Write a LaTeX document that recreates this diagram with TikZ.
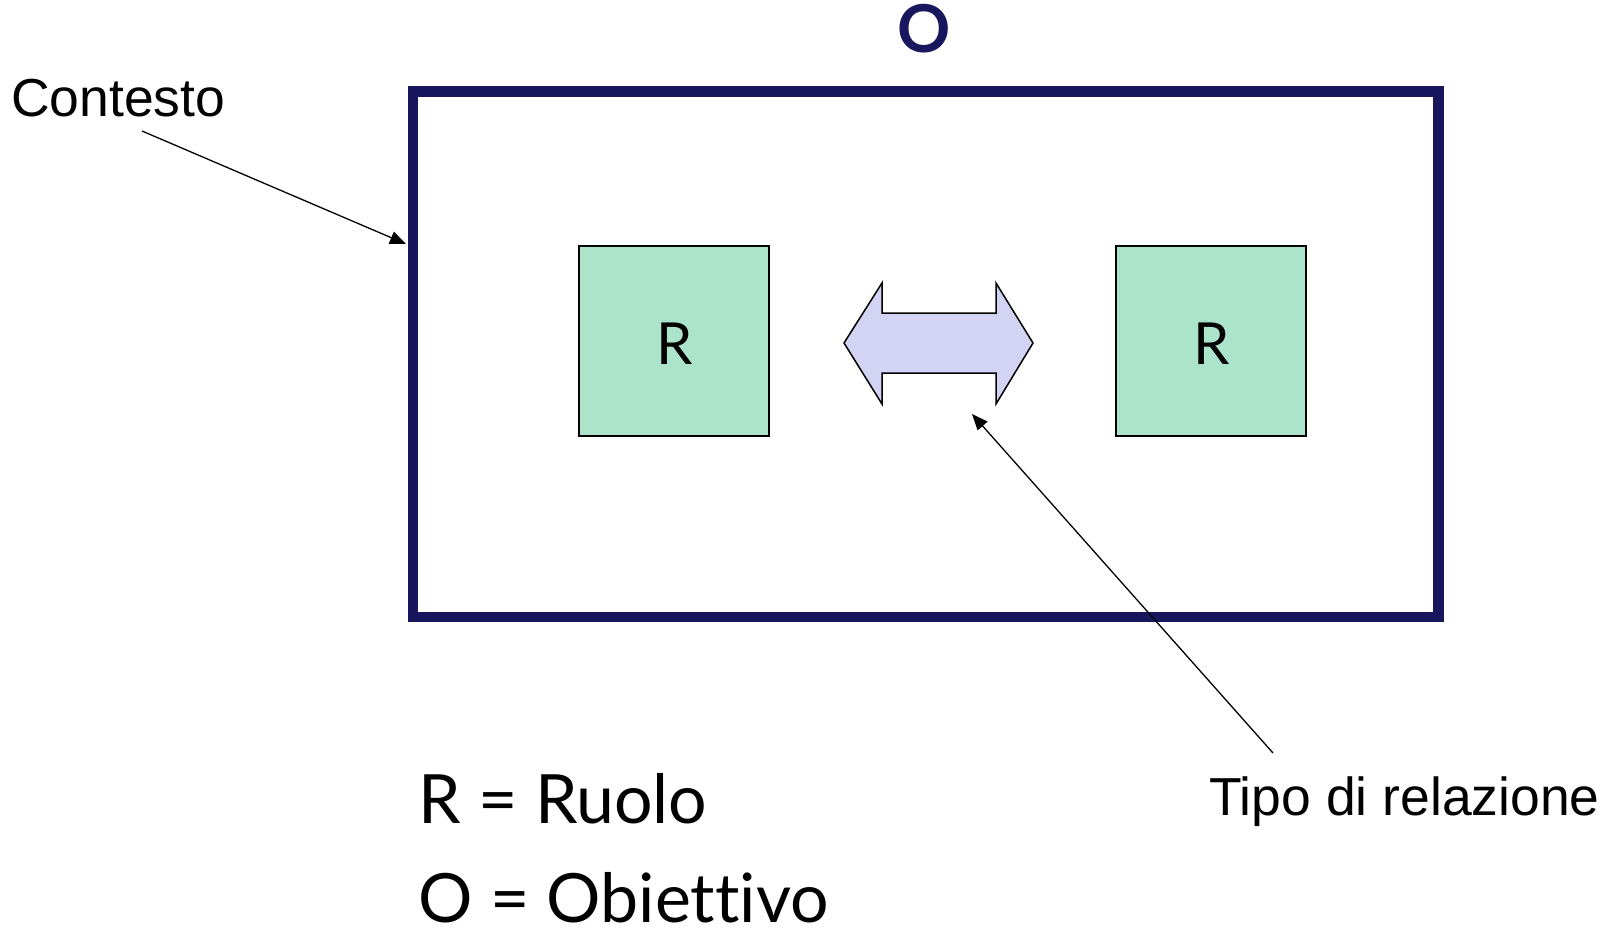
\documentclass[tikz,border=0pt]{standalone}
\usepackage{fontspec}
\setmainfont{Liberation Sans}
\newfontfamily\gillfont[Ligatures={NoCommon}]{Lato}
\usetikzlibrary{arrows.meta}
\definecolor{navy}{RGB}{24,22,92}
\definecolor{rolegreen}{RGB}{171,227,203}
\definecolor{lav}{RGB}{211,211,243}
\tikzset{
  rolebox/.style={draw=black, line width=1.5pt, fill=rolegreen},
  pointer/.style={draw=black, line width=1.3pt, -{Triangle[length=16pt,width=13pt]}},
  lbl/.style={inner sep=0pt, anchor=base west},
}
\begin{document}
\begin{tikzpicture}[x=1pt,y=-1pt]
\useasboundingbox (0,0) rectangle (1604,929);
% context rectangle
\draw[navy, line width=10.5pt] (413,91.5) rectangle (1438.5,617);
% title O
\node[inner sep=0pt, anchor=base, text=navy] (otitle) at (924,52) {\gillfont\fontsize{66}{70}\selectfont\bfseries O};
% role boxes
\path[rolebox] (579,246) rectangle (769,436);
\path[rolebox] (1116,246) rectangle (1306,436);
\node[inner sep=0pt, anchor=base] (r1) at (675,364) {\gillfont\fontsize{58}{62}\selectfont R};
\node[inner sep=0pt, anchor=base] (r2) at (1212,364) {\gillfont\fontsize{58}{62}\selectfont R};
% double arrow
\draw[black, line width=1.5pt, fill=lav, line join=miter]
  (844,343) -- (882,283) -- (882,313) -- (996,313) -- (996,283) -- (1033,343)
  -- (996,404) -- (996,373) -- (882,373) -- (882,404) -- cycle;
% labels
\node[lbl] (contesto) at (11,116) {\fontsize{53.5}{60}\selectfont Contesto};
\node[lbl] (tipo) at (1209,815) {\fontsize{53.5}{60}\selectfont Tipo di relazione};
\coordinate (cstart) at (142,131);
\coordinate (cend) at (406,244);
\coordinate (tstart) at (1273,753);
\coordinate (tend) at (972,414);
\draw[pointer] (cstart) -- (cend);
\draw[pointer] (tstart) -- (tend);
% legend
\node[lbl] (leg1) at (418,823) {\gillfont\fontsize{68}{80}\selectfont R = Ruolo};
\node[lbl] (leg2) at (418,922) {\gillfont\fontsize{68}{80}\selectfont O = Obiettivo};
\end{tikzpicture}
\end{document}
